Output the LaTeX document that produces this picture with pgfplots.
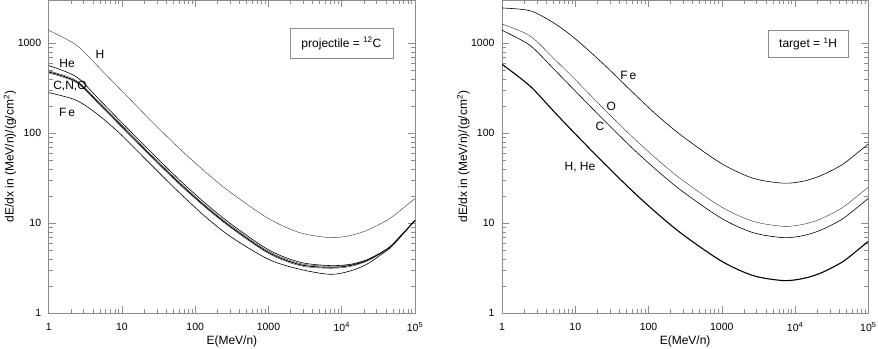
\documentclass[border=0pt]{standalone}
\usepackage{pgfplots}
\usepackage{pgfplotstable}
\pgfplotsset{compat=1.18}
\usepackage{fontspec}
\setmainfont{Liberation Sans}

\pgfplotstableread{
E H He C N O Fe
1 1393 565 494 480 468 283
2.4 951 423 385 374 365 232
5 525 233 216 210 205 155
10 295 131 123 119 116 94.4
25 138 61.7 57.9 56.2 54.8 44.7
60 68.5 30.7 29.0 28.1 27.4 22.1
135 37.7 16.9 16.0 15.6 15.2 12.0
300 22.2 9.98 9.53 9.25 9.02 7.16
1000 11.3 5.08 4.89 4.74 4.62 3.98
2700 7.85 3.69 3.57 3.47 3.38 3.08
7000 6.93 3.39 3.33 3.24 3.16 2.71
13000 7.31 3.50 3.46 3.39 3.31 2.95
22000 8.34 3.93 3.91 3.85 3.79 3.51
37000 10.26 4.90 4.89 4.85 4.82 4.68
50000 11.97 5.89 5.88 5.86 5.85 5.69
100000 18.9 10.8 10.8 10.8 10.8 10.8
}\lefttable

\pgfplotstableread{
E HH C O Fe
1 585 1393 1637 2466
2.4 336 951 1211 2301
5 178 525 689 1698
10 98.4 295 394 1122
25 46.0 138 184 575
60 22.9 68.5 91.4 288
135 12.6 37.7 50.2 155
300 7.41 22.2 29.6 91.0
1000 3.78 11.3 15.1 45.9
2700 2.62 7.85 10.5 31.6
7000 2.31 6.93 9.25 27.9
13000 2.44 7.31 9.75 29.4
22000 2.78 8.34 11.1 33.6
37000 3.42 10.26 13.7 41.3
50000 3.99 11.97 16.0 48.2
100000 6.30 18.9 25.2 76.0
}\righttable

\begin{document}
\begin{tikzpicture}[x=1pt,y=1pt]
\begin{axis}[
    at={(0pt,0pt)}, anchor=south west,
    xmode=log, ymode=log, scale only axis,
    width=366.3pt, height=313.3pt,
    xmin=1, xmax=1e5, ymin=1, ymax=3027,
    axis line style={draw=black!45, line width=0.6pt},
    tick style={draw=black!45, line width=0.5pt},
    major tick length=7pt, minor tick length=4pt,
    tick align=inside,
    xtick={1,10,100,1000,10000,100000},
    xticklabels={1,10,100,1000,10\textsuperscript{4},10\textsuperscript{5}},
    ytick={1,10,100,1000},
    yticklabels={1,10,100,1000},
    tick label style={font=\fontsize{10.5}{12}\selectfont},
    xticklabel shift=6pt, yticklabel shift=4pt,
    label style={font=\fontsize{12}{14}\selectfont},
    xlabel={E(MeV/n)},
    ylabel={dE/dx in (MeV/n)/(g/cm\textsuperscript{2})},
    xlabel style={at={(axis description cs:0.5,0)}, anchor=center, yshift=-28pt},
    ylabel style={at={(axis description cs:-0.1057,0.5)}, anchor=center},
    cycle list={{black!80, line width=0.6pt}},
    every axis plot/.append style={smooth, tension=0.5, no marks},
]
  \addplot table[x=E, y=H] {\lefttable};
  \addplot table[x=E, y=He] {\lefttable};
  \addplot table[x=E, y=C] {\lefttable};
  \addplot[line width=0.8pt, color=black] table[x=E, y=N] {\lefttable};
  \addplot table[x=E, y=O] {\lefttable};
  \addplot table[x=E, y=Fe] {\lefttable};
  \node[font=\fontsize{12}{14}\selectfont] at (axis cs:5.0,760) {H};
  \node[font=\fontsize{12}{14}\selectfont] at (axis cs:1.78,603) {He};
  \node[font=\fontsize{12}{14}\selectfont] at (axis cs:1.95,335) {C,N,O};
  \node[font=\fontsize{12}{14}\selectfont] at (axis cs:1.78,172) {F\,e};
  \node[draw=black!45, line width=0.6pt, fill=white, minimum width=103pt, minimum height=30pt, inner sep=0pt, font=\fontsize{12}{14}\selectfont] at (axis cs:9886,1000) {projectile = \textsuperscript{12}C};
\end{axis}
\begin{axis}[
    at={(453.3pt,0pt)}, anchor=south west,
    xmode=log, ymode=log, scale only axis,
    width=366.3pt, height=313.3pt,
    xmin=1, xmax=1e5, ymin=1, ymax=3027,
    axis line style={draw=black!45, line width=0.6pt},
    tick style={draw=black!45, line width=0.5pt},
    major tick length=7pt, minor tick length=4pt,
    tick align=inside,
    xtick={1,10,100,1000,10000,100000},
    xticklabels={1,10,100,1000,10\textsuperscript{4},10\textsuperscript{5}},
    ytick={1,10,100,1000},
    yticklabels={1,10,100,1000},
    tick label style={font=\fontsize{10.5}{12}\selectfont},
    xticklabel shift=6pt, yticklabel shift=4pt,
    label style={font=\fontsize{12}{14}\selectfont},
    xlabel={E(MeV/n)},
    ylabel={dE/dx in (MeV/n)/(g/cm\textsuperscript{2})},
    xlabel style={at={(axis description cs:0.5,0)}, anchor=center, yshift=-28pt},
    ylabel style={at={(axis description cs:-0.1057,0.5)}, anchor=center},
    cycle list={{black!80, line width=0.6pt}},
    every axis plot/.append style={smooth, tension=0.5, no marks},
]
  \addplot[line width=1.1pt, color=black] table[x=E, y=HH] {\righttable};
  \addplot table[x=E, y=C] {\righttable};
  \addplot table[x=E, y=O] {\righttable};
  \addplot table[x=E, y=Fe] {\righttable};
  \node[font=\fontsize{12}{14}\selectfont] at (axis cs:53,444) {F\,e};
  \node[font=\fontsize{12}{14}\selectfont] at (axis cs:31,201) {O};
  \node[font=\fontsize{12}{14}\selectfont] at (axis cs:21.7,118) {C};
  \node[font=\fontsize{12}{14}\selectfont] at (axis cs:11.6,42.3) {H, He};
  \node[draw=black!45, line width=0.6pt, fill=white, minimum width=80pt, minimum height=26.7pt, inner sep=0pt, font=\fontsize{12}{14}\selectfont] at (axis cs:15100,982) {target = \textsuperscript{1}H};
\end{axis}
\pgfresetboundingbox
\path[use as bounding box] (-48.7pt,-34.7pt) rectangle (829.3pt,313.3pt);
\end{tikzpicture}
\end{document}
